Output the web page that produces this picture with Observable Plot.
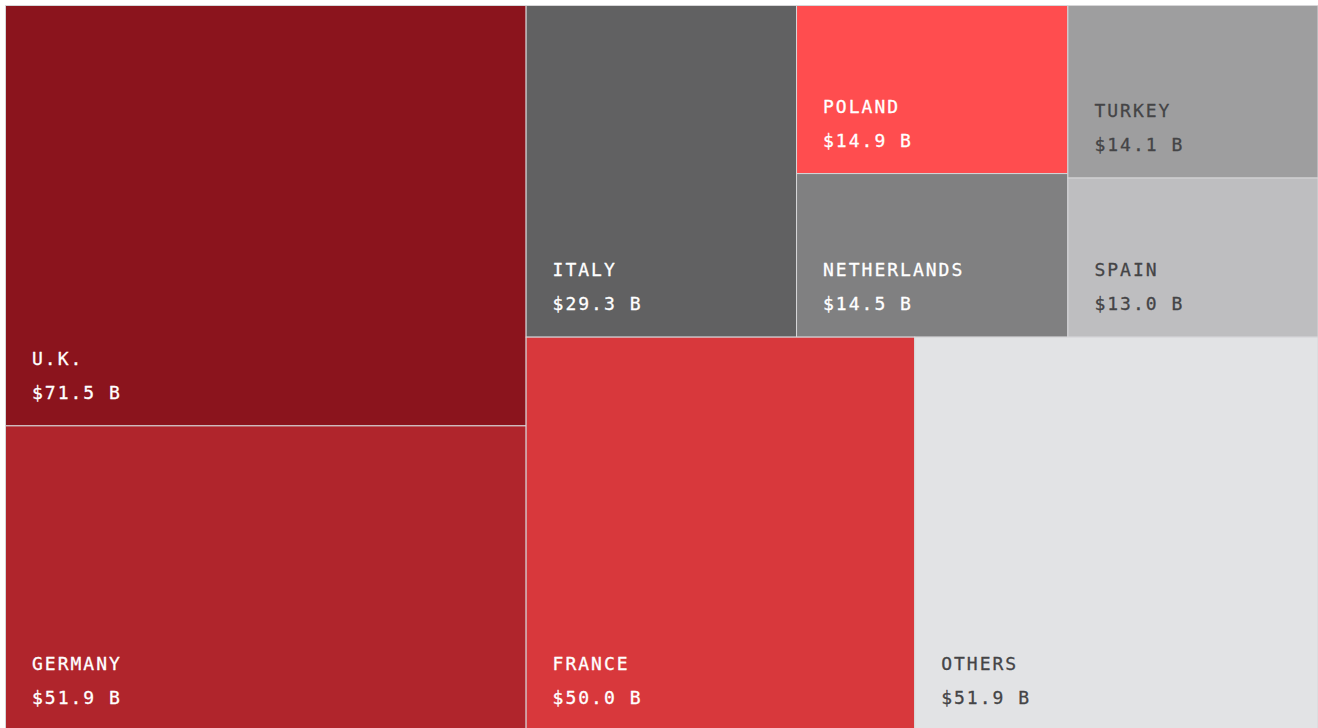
<!DOCTYPE html>
<html>
<head>
<meta charset="utf-8">
<script src="https://cdn.jsdelivr.net/npm/d3@7"></script>
<script src="https://cdn.jsdelivr.net/npm/@observablehq/plot@0.6"></script>
<style>
  html, body { margin: 0; padding: 0; background: #fff; }
  #chart svg { display: block; }
</style>
</head>
<body>
<div id="chart"></div>
<script>
// Data
const countries = ["U.K.", "Germany", "Italy", "Poland", "Netherlands", "Turkey", "Spain", "France", "Others"];
const values    = [71.5, 51.9, 29.3, 14.9, 14.5, 14.1, 13.0, 50.0, 51.9];
const fills     = ["#8b141d", "#b0252c", "#616162", "#ff4d4f", "#808081", "#9e9e9f", "#bebec0", "#d8383c", "#e2e3e5"];
const textFills = ["#ffffff", "#ffffff", "#ffffff", "#ffffff", "#ffffff", "#444446", "#444446", "#ffffff", "#444446"];

const leaf = (i) => ({name: countries[i], value: values[i], fill: fills[i], text: textFills[i]});

// Nested grouping (slice/dice alternating by depth)
const tree = {
  children: [
    {children: [leaf(0), leaf(1)]},
    {children: [
      {children: [
        leaf(2),
        {children: [leaf(3), leaf(4)]},
        {children: [leaf(5), leaf(6)]}
      ]},
      {children: [leaf(7), leaf(8)]}
    ]}
  ]
};

const root = d3.hierarchy(tree).sum(d => d.value || 0);
d3.treemap().tile(d3.treemapSliceDice).size([1, 1]).round(false)(root);
const tiles = root.leaves().map(n => ({
  name: n.data.name, value: n.data.value, fill: n.data.fill, text: n.data.text,
  x0: n.x0, x1: n.x1, y0: n.y0, y1: n.y1
}));

const font = "'DejaVu Sans Mono', 'Liberation Mono', monospace";

const chart = Plot.plot({
  width: 1318,
  height: 728,
  margin: 0,
  x: {domain: [0, 1], range: [5.5, 1318], axis: null},
  y: {domain: [0, 1], range: [5.5, 731], axis: null},
  style: {background: "#fff"},
  marks: [
    Plot.rect(tiles, {x1: "x0", x2: "x1", y1: "y0", y2: "y1", fill: "fill", stroke: "#d6d6d8", strokeWidth: 1}),
    Plot.text(tiles, {x: "x0", y: "y1", text: d => d.name.toUpperCase(), fill: "text", stroke: "text", strokeWidth: 0.3,
      dx: 26, dy: -67, textAnchor: "start", fontSize: 18, fontFamily: font}),
    Plot.text(tiles, {x: "x0", y: "y1", text: d => `$${d.value.toFixed(1)} B`, fill: "text", stroke: "text", strokeWidth: 0.3,
      dx: 26, dy: -33, textAnchor: "start", fontSize: 18, fontFamily: font})
  ]
});
chart.querySelectorAll("text").forEach(t => t.style.letterSpacing = "2px");
document.getElementById("chart").append(chart);
</script>
</body>
</html>
